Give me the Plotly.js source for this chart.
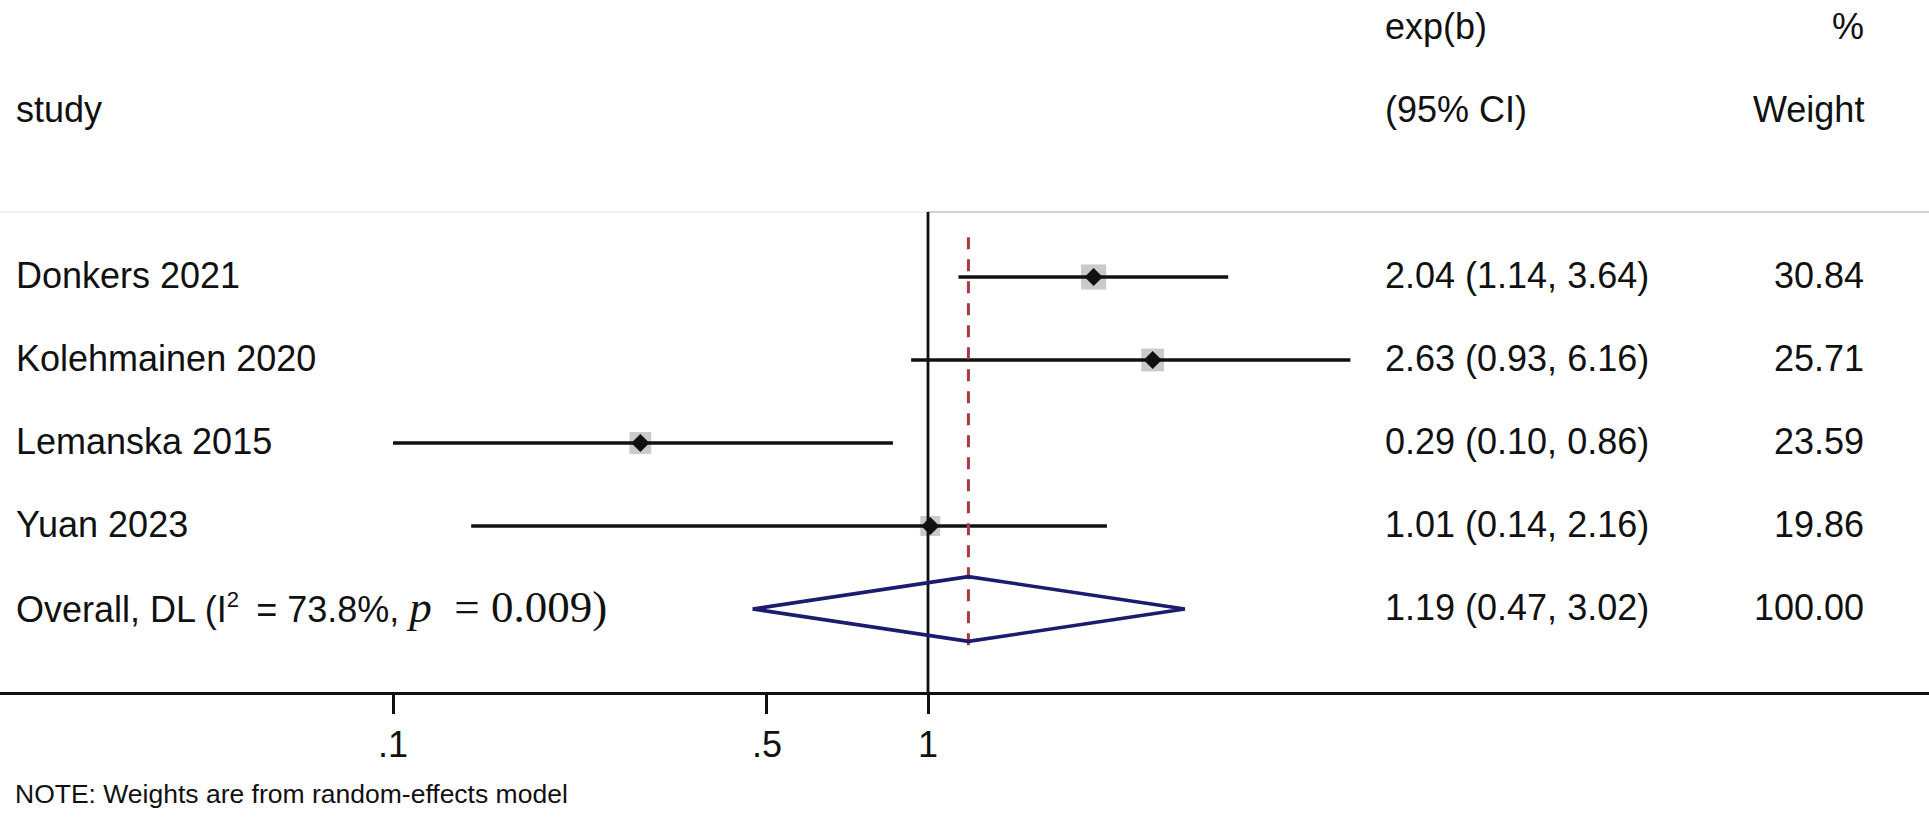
<!DOCTYPE html>
<html>
<head>
<meta charset="utf-8">
<script src="https://cdn.plot.ly/plotly-3.0.1.min.js"></script>
<style>
  html, body { margin: 0; padding: 0; background: #fff; }
  #chart { width: 1929px; height: 817px; }
</style>
</head>
<body>
<div id="chart"></div>
<script>
const studies = ['Donkers 2021', 'Kolehmainen 2020', 'Lemanska 2015', 'Yuan 2023'];
const estimates = [2.04, 2.63, 0.29, 1.01];
const lowerCI = [1.14, 0.93, 0.10, 0.14];
const upperCI = [3.64, 6.16, 0.86, 2.16];
const weights = [30.84, 25.71, 23.59, 19.86];

const pooledLabel = 'Overall, DL';
const pooledEst = 1.19;
const pooledLower = 0.47;
const pooledUpper = 3.02;
const pooledWeight = 100.00;
const iSquared = '73.8%';
const pValue = '0.009';

const tickVals = [0.1, 0.5, 1];
const tickText = ['.1', '.5', '1'];

const SANS = '"Liberation Sans", Arial, sans-serif';
const INK = '#111';
const FS = 36;

const rows = studies.map((_, i) => i);
const pooledRow = studies.length;
const axisRow = pooledRow + 1;

const traces = [];

// weight boxes (area ~ weight)
traces.push({
  x: estimates, y: rows,
  type: 'scatter', mode: 'markers',
  marker: { symbol: 'square', color: '#b4b4b4', size: weights.map(w => 4.7 * Math.sqrt(w)) },
  hoverinfo: 'skip', showlegend: false,
});

// CI lines
studies.forEach((s, i) => {
  traces.push({
    x: [lowerCI[i], upperCI[i]], y: [i, i],
    type: 'scatter', mode: 'lines',
    line: { color: INK, width: 3.6 },
    hoverinfo: 'skip', showlegend: false,
  });
});

// point estimates
traces.push({
  x: estimates, y: rows,
  type: 'scatter', mode: 'markers',
  marker: { symbol: 'diamond', color: INK, size: 14 },
  hoverinfo: 'skip', showlegend: false,
});

// null line at 1
traces.push({
  x: [1, 1], y: [-0.783, axisRow],
  type: 'scatter', mode: 'lines',
  line: { color: INK, width: 2.8 },
  hoverinfo: 'skip', showlegend: false,
});

// pooled estimate dashed line
traces.push({
  x: [pooledEst, pooledEst], y: [-0.48, pooledRow + 0.48],
  type: 'scatter', mode: 'lines',
  line: { color: '#a83a46', width: 3, dash: '12px,10px' },
  hoverinfo: 'skip', showlegend: false,
});

// pooled diamond
const h = 0.39;
traces.push({
  x: [pooledLower, pooledEst, pooledUpper, pooledEst, pooledLower],
  y: [pooledRow, pooledRow - h, pooledRow, pooledRow + h, pooledRow],
  type: 'scatter', mode: 'lines',
  line: { color: '#1c1c6e', width: 3.6 },
  hoverinfo: 'skip', showlegend: false,
});

const fmt = v => v.toFixed(2);
const annotations = [];
const colStudy = 14 / 1929;
const colCI = 1383 / 1929;
const colW = 1866 / 1929;

function txt(x, y, text, anchor, size, yref) {
  annotations.push({
    xref: 'paper', x, yref: yref || 'y', y, text,
    showarrow: false, xanchor: anchor, yanchor: 'middle', yshift: 2,
    font: { family: SANS, size: size || FS, color: INK },
  });
}

// headers
txt(colCI, -3, 'exp(b)', 'left');
txt(colW, -3, '%', 'right');
txt(colStudy, -2, 'study', 'left');
txt(colCI, -2, '(95% CI)', 'left');
txt(colW, -2, 'Weight', 'right');

studies.forEach((s, i) => {
  txt(colStudy, i, s, 'left');
  txt(colCI, i, `${fmt(estimates[i])} (${fmt(lowerCI[i])}, ${fmt(upperCI[i])})`, 'left');
  txt(colW, i, fmt(weights[i]), 'right');
});

txt(colStudy, pooledRow,
  `${pooledLabel} (I<sup><span style="font-size:22px">2</span></sup>\u2009 = ${iSquared}, ` +
  `<span style="font-family:'Liberation Serif', serif;font-size:45px"><i>p</i>\u2002= ${pValue})</span>`,
  'left');
txt(colCI, pooledRow, `${fmt(pooledEst)} (${fmt(pooledLower)}, ${fmt(pooledUpper)})`, 'left');
txt(colW, pooledRow, fmt(pooledWeight), 'right');

txt(13 / 1929, -0.150, 'NOTE: Weights are from random-effects model', 'left', 26.5, 'paper');

const layout = {
  width: 1929, height: 817,
  margin: { l: 0, r: 0, t: 0, b: 125 },
  paper_bgcolor: '#fff', plot_bgcolor: '#fff',
  showlegend: false,
  xaxis: {
    type: 'log',
    range: [-928 / 535, (1929 - 928) / 535],
    showgrid: false, zeroline: false,
    showline: true, linecolor: INK, linewidth: 3,
    ticks: 'outside', ticklen: 19, tickwidth: 3, tickcolor: INK,
    tickvals: tickVals, ticktext: tickText,
    tickfont: { family: SANS, size: FS, color: INK },
    fixedrange: true,
  },
  yaxis: {
    range: [axisRow, -277 / 83],
    visible: false, showgrid: false, zeroline: false, fixedrange: true,
  },
  shapes: [
    { type: 'line', xref: 'paper', x0: 0, x1: 1, yref: 'y', y0: -0.783, y1: -0.783,
      line: { color: '#ececec', width: 1.5 }, layer: 'below' },
    { type: 'line', xref: 'x', x0: 1, x1: 80, yref: 'y', y0: -0.783, y1: -0.783,
      line: { color: '#c6c6c6', width: 1.5 }, layer: 'below' },
  ],
  annotations,
};

Plotly.newPlot('chart', traces, layout, { displayModeBar: false, staticPlot: true });
</script>
</body>
</html>
